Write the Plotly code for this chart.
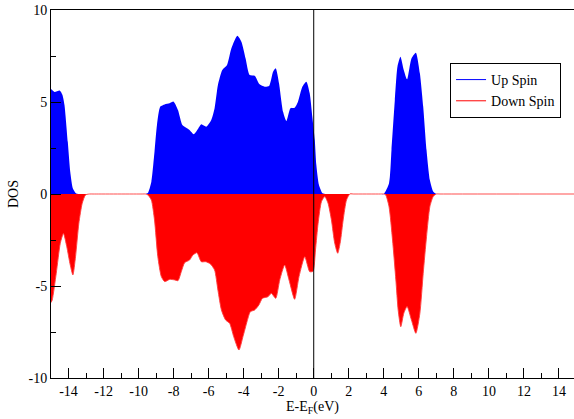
import plotly.graph_objects as go

# ---- data ----
energy_up = [-15.0, -14.8, -14.5, -14.35, -14.23, -14.04, -13.9, -13.75, -13.56, -13.3,
             -13.1, -9.8, -9.6, -9.47, -9.27, -9.09, -8.95, -8.76, -8.51, -8.23,
             -8.0, -7.75, -7.5, -7.28, -7.09, -6.85, -6.6, -6.42, -6.13, -5.85,
             -5.66, -5.47, -5.22, -4.95, -4.7, -4.36, -4.13, -3.89, -3.66, -3.37,
             -3.09, -2.8, -2.55, -2.32, -2.17, -1.98, -1.75, -1.56, -1.33, -1.09,
             -0.9, -0.65, -0.42, -0.23, -0.08, 0.06, 0.15, 0.3, 0.5, 0.7,
             0.9, 3.8, 4.0, 4.3, 4.44, 4.63, 4.78, 4.95, 5.14, 5.33,
             5.58, 5.83, 6.06, 6.25, 6.44, 6.63, 6.82, 7.0, 7.2, 15.0]
dos_up = [5.7, 5.55, 5.63, 5.4, 4.84, 2.83, 1.2, 0.3, 0.03, 0.0,
          0.0, 0.0, 0.0, 0.05, 0.67, 2.3, 3.75, 4.75, 4.87, 4.93,
          5.02, 4.57, 3.75, 3.6, 3.48, 3.25, 3.55, 3.79, 3.66, 4.02,
          4.66, 5.92, 6.74, 7.01, 7.92, 8.6, 8.28, 7.37, 6.47, 6.43,
          5.96, 5.83, 5.87, 6.65, 6.83, 6.01, 4.47, 3.97, 4.66, 4.69,
          5.02, 5.83, 6.1, 5.47, 4.2, 2.93, 1.58, 0.49, 0.04, 0.0,
          0.0, 0.0, 0.0, 0.58, 2.39, 5.1, 6.92, 7.46, 6.74, 6.23,
          7.37, 7.68, 6.56, 4.75, 2.39, 0.76, 0.13, 0.0, 0.0, 0.0]

energy_dn = [-15.0, -14.93, -14.7, -14.47, -14.29, -14.1, -13.9, -13.75, -13.6, -13.41,
             -13.22, -13.03, -12.8, -12.6, -9.8, -9.6, -9.47, -9.27, -9.09, -8.9,
             -8.7, -8.51, -8.23, -7.94, -7.75, -7.56, -7.37, -7.09, -6.9, -6.67,
             -6.42, -6.17, -5.9, -5.66, -5.47, -5.27, -5.03, -4.8, -4.57, -4.27,
             -4.04, -3.81, -3.62, -3.37, -3.13, -2.93, -2.61, -2.42, -2.17, -1.94,
             -1.66, -1.41, -1.09, -0.84, -0.51, -0.23, -0.04, 0.1, 0.25, 0.44,
             0.63, 0.82, 1.01, 1.2, 1.37, 1.52, 1.68, 1.87, 2.06, 2.25,
             3.8, 4.0, 4.11, 4.3, 4.5, 4.69, 4.82, 4.97, 5.14, 5.33,
             5.58, 5.83, 6.06, 6.25, 6.44, 6.63, 6.82, 7.0, 7.2, 15.0]
dos_dn = [-5.9, -5.76, -4.31, -2.68, -2.14, -2.86, -3.86, -4.4, -3.41, -1.59,
          -0.51, -0.05, 0.0, 0.0, 0.0, 0.0, -0.05, -0.33, -1.41, -3.41,
          -4.49, -4.76, -4.64, -4.67, -4.71, -4.22, -3.73, -3.59, -3.32, -3.19,
          -3.68, -3.68, -3.8, -4.13, -5.22, -6.3, -6.85, -7.03, -7.75, -8.48,
          -7.75, -6.94, -6.4, -6.3, -6.03, -5.67, -5.58, -5.4, -5.67, -4.67,
          -3.86, -4.67, -5.72, -4.49, -3.41, -4.22, -4.2, -3.04, -1.59, -0.42,
          -0.14, -0.51, -1.41, -2.68, -3.22, -2.6, -1.41, -0.33, 0.0, 0.0,
          0.0, 0.0, -0.05, -0.69, -2.5, -4.67, -6.3, -7.21, -6.49, -6.12,
          -6.85, -7.57, -6.49, -4.31, -2.32, -0.69, -0.14, 0.0, 0.0, 0.0]

series_names = ["Up Spin", "Down Spin"]
fermi_level = 0.0

x_tickvals = [-14, -12, -10, -8, -6, -4, -2, 0, 2, 4, 6, 8, 10, 12, 14]
x_ticktext = ["-14", "-12", "-10", "-8", "-6", "-4", "-2", "0", "2", "4", "6", "8", "10", "12", "14"]
y_tickvals = [-10, -5, 0, 5, 10]
y_ticktext = ["-10", "-5", "0", "5", "10"]

BLUE = "rgb(0,0,255)"
RED = "rgb(255,0,0)"
FONT = "Liberation Serif"

fig = go.Figure()
fig.add_trace(go.Scatter(x=energy_up, y=dos_up, mode="lines", fill="tozeroy",
                         fillcolor=BLUE, line=dict(color=BLUE, width=0, shape="spline", smoothing=0.6),
                         showlegend=False, hoverinfo="skip"))
fig.add_trace(go.Scatter(x=energy_dn, y=dos_dn, mode="lines", fill="tozeroy",
                         fillcolor=RED, line=dict(color="rgba(255,60,60,0.9)", width=1, shape="spline", smoothing=0.6),
                         showlegend=False, hoverinfo="skip"))
# legend entries (line style)
fig.add_trace(go.Scatter(x=[None], y=[None], mode="lines", name=series_names[0],
                         line=dict(color=BLUE, width=1)))
fig.add_trace(go.Scatter(x=[None], y=[None], mode="lines", name=series_names[1],
                         line=dict(color=RED, width=1)))

fig.add_vline(x=fermi_level, line=dict(color="black", width=1))

axis_common = dict(showline=True, linecolor="black", linewidth=1, mirror=True,
                   ticks="inside", ticklen=10, tickcolor="black", tickwidth=1,
                   showgrid=False, zeroline=False,
                   tickfont=dict(family=FONT, size=14, color="black"))

fig.update_xaxes(range=[-15, 14.86], tickvals=x_tickvals, ticktext=x_ticktext,
                 minor=dict(ticks="inside", ticklen=5, dtick=1, tick0=0, tickcolor="black", showgrid=False),
                 title=dict(text="E-E<sub>F</sub>(eV)", font=dict(family=FONT, size=14, color="black"), standoff=2),
                 **axis_common)
fig.update_yaxes(range=[-10, 10], tickvals=y_tickvals, ticktext=y_ticktext,
                 minor=dict(ticks="inside", ticklen=5, dtick=2.5, tick0=0, tickcolor="black", showgrid=False),
                 title=dict(text="DOS", font=dict(family=FONT, size=14, color="black"), standoff=6),
                 **axis_common)

fig.update_layout(
    width=574, height=419,
    margin=dict(l=51, r=0, t=10, b=41),
    paper_bgcolor="white", plot_bgcolor="white",
    font=dict(family=FONT, size=14, color="black"),
    legend=dict(x=0.763, y=0.856, xanchor="left", yanchor="top",
                bgcolor="white", bordercolor="black", borderwidth=1,
                font=dict(family=FONT, size=14, color="black"),
                tracegroupgap=0, itemwidth=30),
)

fig.write_html("out.html")
